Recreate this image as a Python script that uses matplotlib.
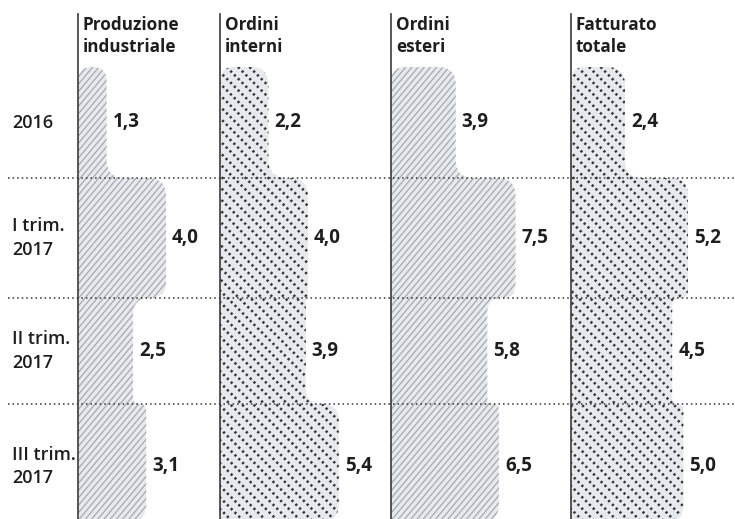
import numpy as np
import matplotlib
matplotlib.use("Agg")
import matplotlib.pyplot as plt
from matplotlib.path import Path
from matplotlib.patches import PathPatch
from matplotlib.collections import LineCollection

# ---------------- data ----------------
rows = ["2016", "I trim.\n2017", "II trim.\n2017", "III trim.\n2017"]
series = ["Produzione\nindustriale", "Ordini\ninterni", "Ordini\nesteri", "Fatturato\ntotale"]
produzione = [1.3, 4.0, 2.5, 3.1]
ordini_interni = [2.2, 4.0, 3.9, 5.4]
ordini_esteri = [3.9, 7.5, 5.8, 6.5]
fatturato = [2.4, 5.2, 4.5, 5.0]
values = [produzione, ordini_interni, ordini_esteri, fatturato]

# ---------------- layout ----------------
W, H = 735, 519
col_x = [78, 220, 391, 571]
col_scale = [22.0, 22.0, 16.6, 22.5]
row_edges = [67, 178, 298, 404, 522]
sep_y = row_edges[1:4]
line_top = 14
R = 18
styles = ["solid", "dotted", "solid", "dotted"]
FILL = "#e6e9ed"
TXT = "#1e1e1e"

plt.rcParams['font.family'] = ['Open Sans', 'DejaVu Sans']
fig = plt.figure(figsize=(W / 100, H / 100), dpi=100)
ax = fig.add_axes([0, 0, 1, 1])
ax.set_xlim(0, W)
ax.set_ylim(H, 0)
ax.axis("off")


def rounded_path(pts, radii):
    n = len(pts)
    verts, codes = [], []
    for i in range(n):
        p = np.array(pts[i], float)
        prev = np.array(pts[i - 1], float)
        nxt = np.array(pts[(i + 1) % n], float)
        d1 = prev - p
        d2 = nxt - p
        l1, l2 = np.linalg.norm(d1), np.linalg.norm(d2)
        r = min(radii[i], l1 / 2, l2 / 2)
        a = p + d1 / l1 * r
        b = p + d2 / l2 * r
        verts.append(a); codes.append(Path.MOVETO if i == 0 else Path.LINETO)
        verts.append(p); codes.append(Path.CURVE3)
        verts.append(b); codes.append(Path.CURVE3)
    verts.append(verts[0]); codes.append(Path.CLOSEPOLY)
    return Path(verts, codes)


for ci, (x0, sc, vals, st) in enumerate(zip(col_x, col_scale, values, styles)):
    widths = [v * sc for v in vals]
    pts = [(x0, row_edges[0])]
    radii = [14]
    pts.append((x0 + widths[0], row_edges[0])); radii.append(R)
    for k in range(len(widths)):
        yb = row_edges[k + 1]
        pts.append((x0 + widths[k], yb)); radii.append(R)
        if k + 1 < len(widths):
            pts.append((x0 + widths[k + 1], yb)); radii.append(R)
    pts.append((x0, row_edges[-1])); radii.append(0)
    path = rounded_path(pts, radii)
    patch = PathPatch(path, facecolor=FILL, edgecolor="none", zorder=1)
    ax.add_patch(patch)

    # hatch lines
    xmax = x0 + max(widths) + 5
    segs = []
    if st == "solid":
        ang = np.deg2rad(50)
        sp = 6.2  # horizontal spacing
        dx = (row_edges[-1] - row_edges[0]) / np.tan(ang)
        for xs in np.arange(x0 - dx - 10, xmax + 10, sp):
            segs.append([(xs, row_edges[-1]), (xs + dx, row_edges[0])])
        lc = LineCollection(segs, colors="#a3a7ac", linewidths=0.85, zorder=2)
    else:
        ang = np.deg2rad(45)
        sp = 11.5
        dx = (row_edges[-1] - row_edges[0]) / np.tan(ang)
        for xs in np.arange(x0 - dx - 10, xmax + 10, sp):
            segs.append([(xs, row_edges[0]), (xs + dx, row_edges[-1])])
        lc = LineCollection(segs, colors="#333333", linewidths=1.8,
                            linestyles=[(0, (0.9, 1.25))], zorder=2)
    ax.add_collection(lc)
    lc.set_clip_path(patch)

    # vertical line
    ax.plot([x0, x0], [line_top, H], color="#3a3a3a", lw=1.2, zorder=4)
    # header
    ax.text(x0 + 5, line_top + 2, series[ci], ha="left", va="top",
            fontsize=12.3, fontweight="bold", color=TXT, linespacing=1.25, zorder=5)
    # value labels
    for k, v in enumerate(vals):
        yc = (row_edges[k] + row_edges[k + 1]) / 2
        if k == len(vals) - 1:
            yc = (row_edges[k] + 519) / 2 + 5
        ax.text(x0 + widths[k] + 6, yc, f"{v:.1f}".replace(".", ","),
                ha="left", va="center", fontsize=13.5, fontweight="bold",
                color=TXT, zorder=5)

# separators
for y in sep_y:
    ax.plot([8, W], [y, y], color="#333333", lw=1.1,
            linestyle=(0, (1.0, 2.0)), zorder=3)

# row labels
for k, lab in enumerate(rows):
    yc = (row_edges[k] + row_edges[k + 1]) / 2
    if k == len(rows) - 1:
        yc = (row_edges[k] + 519) / 2 + 5
    ax.text(12, yc, lab, ha="left", va="center", fontsize=13,
            fontweight="semibold", color=TXT, linespacing=1.4, zorder=5)

fig.savefig("out.png", dpi=100)
